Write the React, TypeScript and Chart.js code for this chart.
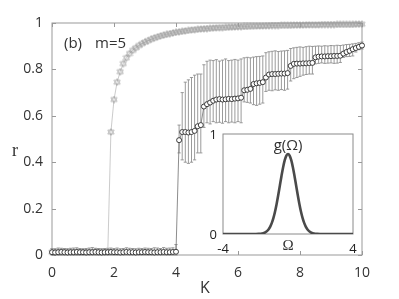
import React, { useEffect, useRef } from "react";
import { Chart, registerables } from "chart.js";
Chart.register(...registerables);

// coupling strength K
const K = [
  0, 0.1, 0.2, 0.3, 0.4, 0.5, 0.6, 0.7, 0.8, 0.9,
  1, 1.1, 1.2, 1.3, 1.4, 1.5, 1.6, 1.7, 1.8, 1.9,
  2, 2.1, 2.2, 2.3, 2.4, 2.5, 2.6, 2.7, 2.8, 2.9,
  3, 3.1, 3.2, 3.3, 3.4, 3.5, 3.6, 3.7, 3.8, 3.9,
  4, 4.1, 4.2, 4.3, 4.4, 4.5, 4.6, 4.7, 4.8, 4.9,
  5, 5.1, 5.2, 5.3, 5.4, 5.5, 5.6, 5.7, 5.8, 5.9,
  6, 6.1, 6.2, 6.3, 6.4, 6.5, 6.6, 6.7, 6.8, 6.9,
  7, 7.1, 7.2, 7.3, 7.4, 7.5, 7.6, 7.7, 7.8, 7.9,
  8, 8.1, 8.2, 8.3, 8.4, 8.5, 8.6, 8.7, 8.8, 8.9,
  9, 9.1, 9.2, 9.3, 9.4, 9.5, 9.6, 9.7, 9.8, 9.9,
  10,
];

// gray series (hexagram markers)
const rGray = [
  0.012, 0.013, 0.012, 0.011, 0.012, 0.013, 0.012, 0.012, 0.011, 0.012,
  0.013, 0.012, 0.012, 0.013, 0.012, 0.011, 0.012, 0.013, 0.015, 0.53,
  0.67, 0.745, 0.79, 0.825, 0.85, 0.868, 0.882, 0.893, 0.903, 0.911,
  0.918, 0.924, 0.93, 0.935, 0.94, 0.944, 0.948, 0.951, 0.954, 0.957,
  0.96, 0.962, 0.964, 0.966, 0.968, 0.97, 0.971, 0.973, 0.974, 0.975,
  0.976, 0.977, 0.978, 0.979, 0.98, 0.98, 0.981, 0.982, 0.982, 0.983,
  0.984, 0.984, 0.985, 0.985, 0.986, 0.986, 0.987, 0.987, 0.987, 0.988,
  0.988, 0.989, 0.989, 0.989, 0.99, 0.99, 0.99, 0.99, 0.991, 0.991,
  0.991, 0.991, 0.992, 0.992, 0.992, 0.992, 0.992, 0.993, 0.993, 0.993,
  0.993, 0.993, 0.994, 0.994, 0.994, 0.994, 0.994, 0.994, 0.995, 0.995,
  0.995,
];

// black series (open circles with error bars)
const rCircle = [
  0.012, 0.011, 0.012, 0.013, 0.012, 0.011, 0.012, 0.012, 0.013, 0.012,
  0.012, 0.011, 0.012, 0.012, 0.013, 0.012, 0.011, 0.012, 0.012, 0.013,
  0.012, 0.012, 0.011, 0.012, 0.013, 0.012, 0.012, 0.011, 0.012, 0.012,
  0.013, 0.012, 0.012, 0.011, 0.012, 0.012, 0.013, 0.012, 0.012, 0.013,
  0.014, 0.495, 0.53, 0.53, 0.528, 0.53, 0.535, 0.555, 0.56, 0.64,
  0.65, 0.657, 0.665, 0.67, 0.672, 0.67, 0.671, 0.673, 0.672, 0.674,
  0.675, 0.678, 0.71, 0.712, 0.716, 0.737, 0.74, 0.742, 0.745, 0.765,
  0.778, 0.78, 0.78, 0.781, 0.782, 0.782, 0.784, 0.815, 0.824, 0.825,
  0.825, 0.826, 0.826, 0.827, 0.828, 0.852, 0.855, 0.856, 0.856, 0.857,
  0.857, 0.858, 0.858, 0.859, 0.868, 0.875, 0.88, 0.887, 0.892, 0.897,
  0.903,
];

const errHigh = [
  0.028, 0.027, 0.03, 0.029, 0.028, 0.027, 0.029, 0.03, 0.031, 0.028,
  0.027, 0.028, 0.03, 0.032, 0.029, 0.028, 0.027, 0.028, 0.029, 0.03,
  0.028, 0.03, 0.027, 0.028, 0.031, 0.029, 0.028, 0.027, 0.029, 0.028,
  0.03, 0.029, 0.028, 0.031, 0.03, 0.028, 0.032, 0.029, 0.03, 0.031,
  0.045, 0.56, 0.7, 0.745, 0.755, 0.765, 0.775, 0.78, 0.78, 0.82,
  0.835, 0.84, 0.838, 0.842, 0.836, 0.84, 0.845, 0.838, 0.84, 0.843,
  0.84, 0.845, 0.85, 0.852, 0.85, 0.853, 0.855, 0.856, 0.858, 0.872,
  0.876, 0.878, 0.88, 0.877, 0.879, 0.88, 0.882, 0.89, 0.893, 0.895,
  0.897, 0.895, 0.898, 0.9, 0.899, 0.9, 0.901, 0.9, 0.902, 0.901,
  0.903, 0.902, 0.904, 0.903, 0.905, 0.907, 0.908, 0.91, 0.912, 0.915,
  0.918,
];

const errLow = [
  0, 0, 0, 0, 0, 0, 0, 0, 0, 0,
  0, 0, 0, 0, 0, 0, 0, 0, 0, 0,
  0, 0, 0, 0, 0, 0, 0, 0, 0, 0,
  0, 0, 0, 0, 0, 0, 0, 0, 0, 0,
  0, 0.44, 0.41, 0.4, 0.395, 0.4, 0.41, 0.44, 0.44, 0.55,
  0.57, 0.565, 0.575, 0.57, 0.572, 0.568, 0.575, 0.57, 0.573, 0.57,
  0.575, 0.57, 0.66, 0.658, 0.655, 0.648, 0.645, 0.65, 0.655, 0.705,
  0.71, 0.708, 0.712, 0.71, 0.713, 0.71, 0.715, 0.75, 0.76, 0.765,
  0.77, 0.775, 0.778, 0.78, 0.78, 0.824, 0.826, 0.828, 0.826, 0.827,
  0.828, 0.826, 0.827, 0.83, 0.852, 0.855, 0.856, 0.858, 0.875, 0.885,
  0.888,
];

const xTicks = [0, 2, 4, 6, 8, 10];
const yTicks = [0, 0.2, 0.4, 0.6, 0.8, 1];

// inset: frequency distribution g(Omega)
const omega = [
  -4, -3, -2.5, -2, -1.8, -1.6, -1.4, -1.2, -1.1, -1, -0.9, -0.8, -0.7, -0.6, -0.5,
  -0.4, -0.3, -0.2, -0.1, 0, 0.1, 0.2, 0.3, 0.4, 0.5, 0.6, 0.7, 0.8, 0.9, 1, 1.1,
  1.2, 1.4, 1.6, 1.8, 2, 2.5, 3, 4,
];
const gOmega = [
  0, 0, 0, 0.0003, 0.0012, 0.0048, 0.0159, 0.0449, 0.0711, 0.1083, 0.1583, 0.2224, 0.3003, 0.3894, 0.4852,
  0.5809, 0.6682, 0.7385, 0.7842, 0.8, 0.7842, 0.7385, 0.6682, 0.5809, 0.4852, 0.3894, 0.3003, 0.2224, 0.1583, 0.1083, 0.0711,
  0.0449, 0.0159, 0.0048, 0.0012, 0.0003, 0, 0, 0,
];
const insetXTicks = [-4, 4];
const insetYTicks = [0, 1];

const W = 399;
const H = 299;
const FONT = "'Open Sans', 'DejaVu Sans', sans-serif";

function makeHexagram(): HTMLCanvasElement {
  const c = document.createElement("canvas");
  c.width = 8;
  c.height = 8;
  const g = c.getContext("2d")!;
  g.strokeStyle = "#9a9a9a";
  g.lineWidth = 0.6;
  g.beginPath();
  g.moveTo(4, 0.6);
  g.lineTo(7.2, 6);
  g.lineTo(0.8, 6);
  g.closePath();
  g.moveTo(4, 7.4);
  g.lineTo(7.2, 2);
  g.lineTo(0.8, 2);
  g.closePath();
  g.stroke();
  return c;
}

export default function App() {
  const mainRef = useRef<HTMLCanvasElement | null>(null);
  const insetRef = useRef<HTMLCanvasElement | null>(null);

  useEffect(() => {
    const hex = makeHexagram();

    const mainPlugin = {
      id: "mainDecor",
      beforeDatasetsDraw(chart: any) {
        const { ctx, chartArea, scales } = chart;
        const { left, right, top, bottom } = chartArea;
        const x = scales.x;
        const y = scales.y;
        ctx.save();
        // error bars
        ctx.strokeStyle = "#8f8f8f";
        ctx.lineWidth = 0.9;
        ctx.beginPath();
        for (let i = 0; i < K.length; i++) {
          const px = x.getPixelForValue(K[i]);
          const yh = y.getPixelForValue(errHigh[i]);
          const yl = y.getPixelForValue(errLow[i]);
          ctx.moveTo(px, yh);
          ctx.lineTo(px, yl);
          ctx.moveTo(px - 1.6, yh);
          ctx.lineTo(px + 1.6, yh);
          ctx.moveTo(px - 1.6, yl);
          ctx.lineTo(px + 1.6, yl);
        }
        ctx.stroke();
        // frame
        ctx.strokeStyle = "#999";
        ctx.lineWidth = 1;
        ctx.strokeRect(left, top, right - left, bottom - top);
        // inward ticks
        ctx.beginPath();
        xTicks.forEach((v) => {
          const px = Math.round(x.getPixelForValue(v)) + 0.5;
          ctx.moveTo(px, bottom);
          ctx.lineTo(px, bottom - 4);
          ctx.moveTo(px, top);
          ctx.lineTo(px, top + 4);
        });
        yTicks.forEach((v) => {
          const py = Math.round(y.getPixelForValue(v)) + 0.5;
          ctx.moveTo(left, py);
          ctx.lineTo(left + 4, py);
          ctx.moveTo(right, py);
          ctx.lineTo(right - 4, py);
        });
        ctx.stroke();
        ctx.restore();
      },
      afterDraw(chart: any) {
        const { ctx, chartArea } = chart;
        const { left, right, top, bottom } = chartArea;
        ctx.save();
        ctx.fillStyle = "#333";
        ctx.textBaseline = "middle";
        ctx.textAlign = "left";
        ctx.font = `15px ${FONT}`;
        ctx.fillText("(b)", left + 12, top + 21);
        ctx.fillText("m=5", left + 43, top + 21);
        ctx.font = "18px 'Liberation Serif', 'DejaVu Serif', serif";
        ctx.textAlign = "center";
        ctx.fillText("r", 15, (top + bottom) / 2 + 12);
        ctx.font = `16px ${FONT}`;
        ctx.fillText("K", (left + right) / 2 - 2, bottom + 33);
        ctx.restore();
      },
    };

    const main = new Chart(mainRef.current!, {
      type: "line",
      data: {
        datasets: [
          {
            label: "circles",
            data: K.map((k, i) => ({ x: k, y: rCircle[i] })),
            borderColor: "#707070",
            borderWidth: 0.8,
            pointStyle: "circle",
            pointRadius: 2.5,
            pointBorderWidth: 0.9,
            pointBorderColor: "#2a2a2a",
            pointBackgroundColor: "#ffffff",
            order: 0,
            clip: false as any,
          },
          {
            label: "hexagram",
            data: K.map((k, i) => ({ x: k, y: rGray[i] })),
            borderColor: "#b4b4b4",
            borderWidth: 0.7,
            pointStyle: hex as any,
            pointRadius: 3,
            order: 1,
            clip: false as any,
          },
        ],
      },
      options: {
        responsive: false,
        animation: false,
        devicePixelRatio: 1,
        layout: { padding: { top: 23, right: 37, left: 0, bottom: 0 } },
        plugins: { legend: { display: false }, tooltip: { enabled: false } },
        scales: {
          x: {
            type: "linear",
            min: 0,
            max: 10,
            grid: { display: false, drawTicks: false },
            border: { display: false },
            afterBuildTicks: (s: any) => {
              s.ticks = xTicks.map((v) => ({ value: v }));
            },
            afterFit: (s: any) => {
              s.height = 44;
            },
            ticks: {
              padding: 10,
              color: "#333",
              maxRotation: 0,
              font: { family: FONT, size: 14 },
              callback: (v: any) => String(v),
            },
          },
          y: {
            type: "linear",
            min: 0,
            max: 1,
            grid: { display: false, drawTicks: false },
            border: { display: false },
            afterBuildTicks: (s: any) => {
              s.ticks = yTicks.map((v) => ({ value: v }));
            },
            afterFit: (s: any) => {
              s.width = 52;
            },
            ticks: {
              padding: 9,
              color: "#333",
              font: { family: FONT, size: 14 },
              callback: (v: any) => String(v),
            },
          },
        },
      },
      plugins: [mainPlugin],
    });

    const insetPlugin = {
      id: "insetDecor",
      beforeDatasetsDraw(chart: any) {
        const { ctx, chartArea } = chart;
        const { left, right, top, bottom } = chartArea;
        ctx.save();
        ctx.fillStyle = "#fff";
        ctx.fillRect(left, top, right - left, bottom - top);
        ctx.strokeStyle = "#8a8a8a";
        ctx.lineWidth = 1;
        ctx.strokeRect(left, top, right - left, bottom - top);
        ctx.restore();
      },
      afterDraw(chart: any) {
        const { ctx, chartArea, scales } = chart;
        const { left, right, top, bottom } = chartArea;
        const x = scales.x;
        const y = scales.y;
        ctx.save();
        ctx.fillStyle = "#222";
        ctx.textBaseline = "middle";
        ctx.font = `13px ${FONT}`;
        ctx.textAlign = "right";
        insetYTicks.forEach((v) => {
          ctx.fillText(String(v), left - 6, y.getPixelForValue(v) + 1.5);
        });
        ctx.textAlign = "center";
        insetXTicks.forEach((v) => {
          ctx.fillText(String(v), x.getPixelForValue(v), bottom + 15);
        });
        ctx.fillStyle = "#333";
        ctx.font = `15px ${FONT}`;
        ctx.fillText("g(Ω)", (left + right) / 2, top + 12);
        ctx.font = "15px 'Liberation Serif', 'DejaVu Serif', serif";
        ctx.fillText("Ω", (left + right) / 2, bottom + 12);
        ctx.restore();
      },
    };

    const inset = new Chart(insetRef.current!, {
      type: "line",
      data: {
        datasets: [
          {
            data: omega.map((o, i) => ({ x: o, y: gOmega[i] })),
            borderColor: "#4a4a4a",
            borderWidth: 2.6,
            pointRadius: 0,
            cubicInterpolationMode: "monotone",
          },
        ],
      },
      options: {
        responsive: false,
        animation: false,
        devicePixelRatio: 1,
        layout: { padding: { top: 14, right: 12, left: 0, bottom: 0 } },
        plugins: { legend: { display: false }, tooltip: { enabled: false } },
        scales: {
          x: {
            type: "linear",
            min: -4,
            max: 4,
            grid: { display: false, drawTicks: false },
            border: { display: false },
            afterFit: (s: any) => {
              s.height = 26;
            },
            ticks: { display: false },
          },
          y: {
            type: "linear",
            min: 0,
            max: 1,
            grid: { display: false, drawTicks: false },
            border: { display: false },
            afterFit: (s: any) => {
              s.width = 23;
            },
            ticks: { display: false },
          },
        },
      },
      plugins: [insetPlugin],
    });

    return () => {
      main.destroy();
      inset.destroy();
    };
  }, []);

  return (
    <div style={{ position: "fixed", left: 0, top: 0, width: W, height: H, background: "#fff" }}>
      <canvas ref={mainRef} width={W} height={H} style={{ position: "absolute", left: 0, top: 0 }} />
      <canvas
        ref={insetRef}
        width={165}
        height={140}
        style={{ position: "absolute", left: 200, top: 120 }}
      />
    </div>
  );
}
